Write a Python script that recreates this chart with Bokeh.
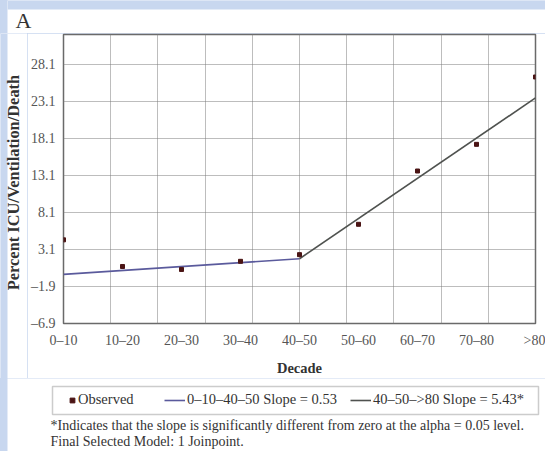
import math

from bokeh.embed import file_html
from bokeh.layouts import column, row
from bokeh.models import BoxAnnotation, FixedTicker, Label, Legend, LegendItem, Range1d
from bokeh.plotting import figure
from bokeh.resources import INLINE

# ---- data -------------------------------------------------------------
decades = ["0–10", "10–20", "20–30", "30–40", "40–50", "50–60", "60–70", "70–80", ">80"]
observed = [4.4, 0.8, 0.4, 1.5, 2.4, 6.5, 13.7, 17.3, 26.4]

y_ticks = [-6.9, -1.9, 3.1, 8.1, 13.1, 18.1, 23.1, 28.1]
y_tick_labels = ["–6.9", "–1.9", "3.1", "8.1", "13.1", "18.1", "23.1", "28.1"]

# joinpoint regression: one joinpoint at 40–50
joinpoint_index = 4
joinpoint_value = 1.85
slope_early = 0.53
slope_late = 5.43

panel_letter = "A"
y_title = "Percent ICU/Ventilation/Death"
x_title = "Decade"
legend_early = "0–10–40–50 Slope = 0.53"
legend_late = "40–50–>80 Slope = 5.43*"
footnote_1 = "*Indicates that the slope is significantly different from zero at the alpha = 0.05 level."
footnote_2 = "Final Selected Model: 1 Joinpoint."

# ---- derived segments ---------------------------------------------------
x_idx = list(range(len(decades)))
last = len(decades) - 1
seg1_x = [0, joinpoint_index]
seg1_y = [joinpoint_value - slope_early * joinpoint_index, joinpoint_value]
seg2_x = [joinpoint_index, last]
seg2_y = [joinpoint_value, joinpoint_value + slope_late * (last - joinpoint_index)]

SERIF = "Liberation Serif"
TEXT = "#333333"
BACKDROP = "#c8d7ef"
C_EARLY = "#5a5a9c"
C_LATE = "#4f524f"
C_OBS = "#4a1414"
W = 538          # white panel width
EDGE = 7         # backdrop band left of the white panel
LEFT_W = 20      # strip holding the vertical axis title
CHART_H = 345
TOP_BAND = 9     # backdrop band above the white panel


def strip(width, height):
    """A plain pixel-space strip (y measured from the top) for text outside the chart."""
    s = figure(width=width, height=height, title=None,
               x_range=Range1d(0, width), y_range=Range1d(height, 0),
               output_backend="svg", toolbar_location=None,
               x_axis_type=None, y_axis_type=None, min_border=0,
               background_fill_color="white", border_fill_color="white")
    s.frame_align = False
    s.outline_line_color = None
    s.grid.visible = False
    return s


def band(left, right, top, bottom):
    return BoxAnnotation(left=left, right=right, top=top, bottom=bottom,
                         fill_color=BACKDROP, fill_alpha=1, line_alpha=0)


# ---- panel letter (strip also carries the backdrop band) -------------------
top = strip(W, 24 + TOP_BAND)
top.margin = (0, 0, 0, EDGE)
top.add_layout(band(0, W, 0, TOP_BAND))
top.add_layout(Label(x=8, y=19.5, text=panel_letter, text_font=SERIF, text_font_size="22px",
                     text_color=TEXT, text_baseline="middle"))

# ---- vertical axis title (strip starts at the page edge) --------------------
side = strip(EDGE + LEFT_W, CHART_H)
side.add_layout(band(0, EDGE, 0, CHART_H))
side.add_layout(Label(x=13, y=149, text=y_title, angle=math.pi / 2,
                      text_font=SERIF, text_font_size="16.4px", text_font_style="bold",
                      text_color=TEXT, text_align="center", text_baseline="middle"))

# ---- main chart -----------------------------------------------------------
p = figure(
    width=W - LEFT_W, height=CHART_H, title=None,
    x_range=Range1d(0, last), y_range=Range1d(-6.9, 32.14),
    output_backend="svg", toolbar_location=None,
    min_border_left=34, min_border_right=10,
    min_border_top=1, min_border_bottom=53,
    background_fill_color="white", border_fill_color="white",
)
p.frame_align = False
p.outline_line_color = "#6a6a6a"
p.outline_line_width = 1.5

p.xaxis.ticker = FixedTicker(ticks=x_idx)
p.xaxis.major_label_overrides = {i: d for i, d in zip(x_idx, decades)}
p.yaxis.ticker = FixedTicker(ticks=y_ticks)
p.yaxis.major_label_overrides = {t: s for t, s in zip(y_ticks, y_tick_labels)}
for ax in (p.xaxis[0], p.yaxis[0]):
    ax.axis_line_color = None
    ax.major_tick_line_color = None
    ax.minor_tick_line_color = None
    ax.major_tick_out = 0
    ax.major_tick_in = 0
    ax.minor_tick_out = 0
    ax.major_label_text_font = SERIF
    ax.major_label_text_font_size = "14px"
    ax.major_label_text_color = "#555555"
p.xaxis.major_label_standoff = 9
p.yaxis.major_label_standoff = 8
p.xaxis.axis_label = x_title
p.xaxis.axis_label_text_font = SERIF
p.xaxis.axis_label_text_font_style = "bold"
p.xaxis.axis_label_text_color = TEXT
p.xaxis.axis_label_text_font_size = "14.5px"
p.xaxis.axis_label_standoff = 9

# dotted grid; vertical lines split the decade span into ten parts
p.xgrid.ticker = FixedTicker(ticks=[i * last / 10 for i in range(11)])
for g in (p.xgrid[0], p.ygrid[0]):
    g.grid_line_color = "#7a7a7a"
    g.grid_line_dash = "1 1"
    g.grid_line_width = 1

p.line(seg1_x, seg1_y, line_color=C_EARLY, line_width=1.6)
p.line(seg2_x, seg2_y, line_color=C_LATE, line_width=1.6)
p.scatter(x_idx, observed, marker="square", size=4, fill_color=C_OBS, line_color=C_OBS)

# ---- key and notes --------------------------------------------------------
k = strip(W, 73)
k.margin = (0, 0, 0, EDGE)
k.add_layout(BoxAnnotation(left=45, right=531, top=8, bottom=36,
                           fill_alpha=0, line_color="#555555", line_width=1.5))

# hidden copies of the series, used only as legend swatches
k_obs = k.scatter(x_idx, observed, marker="square", fill_color=C_OBS, line_color=C_OBS,
                  visible=False)
k_early = k.line(seg1_x, seg1_y, line_color=C_EARLY, line_width=1.6, visible=False)
k_late = k.line(seg2_x, seg2_y, line_color=C_LATE, line_width=1.6, visible=False)

leg_obs = Legend(items=[LegendItem(label="Observed", renderers=[k_obs])],
                 location=(59, 43), orientation="horizontal",
                 glyph_width=12, glyph_height=12, label_height=16,
                 label_standoff=0, padding=0, margin=0)
leg_fit = Legend(items=[LegendItem(label=legend_early, renderers=[k_early]),
                        LegendItem(label=legend_late, renderers=[k_late])],
                 location=(157, 43), orientation="horizontal",
                 glyph_width=21, glyph_height=16, label_height=16, label_width=153,
                 label_standoff=2, spacing=10, padding=0, margin=0)
for lg in (leg_obs, leg_fit):
    lg.border_line_color = None
    lg.background_fill_alpha = 0
    lg.inactive_fill_alpha = 0
    lg.label_text_font = SERIF
    lg.label_text_font_size = "14.5px"
    lg.label_text_color = TEXT
    k.add_layout(lg, "center")

for txt, yy in ((footnote_1, 47), (footnote_2, 63)):
    k.add_layout(Label(x=43, y=yy, text=txt, text_font=SERIF, text_font_size="14px",
                       text_color=TEXT, text_baseline="middle"))

page = column(top, row(side, p, spacing=0), k, width=545, height=451, spacing=0,
              styles={"background-color": BACKDROP})

open("out.html", "w").write(file_html(page, INLINE))
